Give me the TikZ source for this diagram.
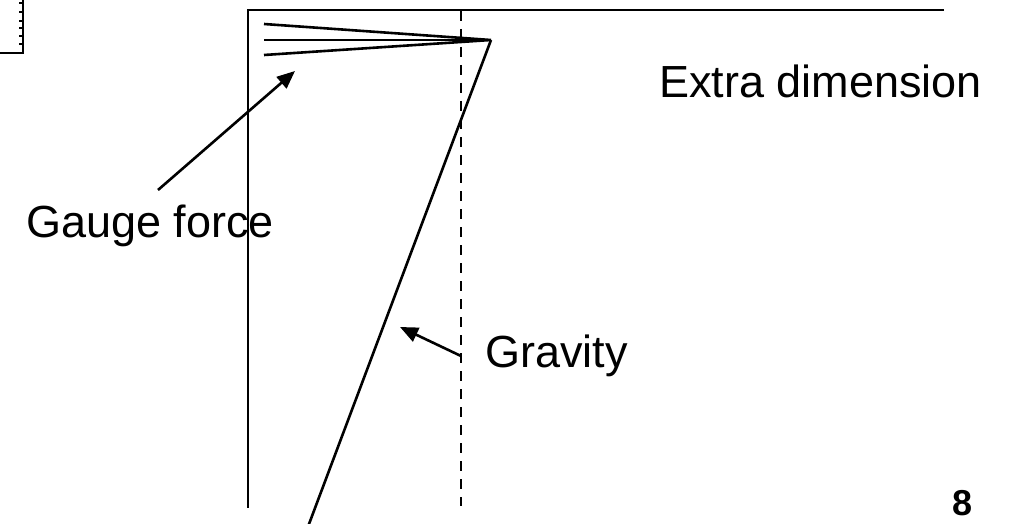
\documentclass[tikz,border=0pt]{standalone}
\usepackage{fontspec}
\setmainfont{Liberation Sans}
\usetikzlibrary{arrows.meta}
\begin{document}
\begin{tikzpicture}[x=1pt,y=-1pt,line width=2.6pt,
  lbl/.style={font=\fontsize{45}{50}\selectfont,inner sep=0pt,anchor=base west},
  arr/.style={-{Triangle[length=18pt,width=15pt]},line width=2.6pt},
  dashline/.style={dash pattern=on 10pt off 8pt}]
\clip (0,0) rectangle (1019,524);
% top-left fragment
\coordinate (fa) at (23,0);
\coordinate (fb) at (23,53);
\coordinate (fc) at (0,53);
\draw[line width=1.8pt] (fa) -- (fb) -- (fc);
\foreach \ty in {3,12,21,28,36,44}{\draw[line width=1.6pt] (19,\ty) -- (23,\ty);}
% axes
\coordinate (tr) at (944,10);
\coordinate (corner) at (248,10);
\coordinate (bl) at (248,508);
\draw (tr) -- (corner) -- (bl);
% dashed brane
\coordinate (dtop) at (461,11);
\coordinate (dbot) at (461,506);
\draw[dashline] (dtop) -- (dbot);
% gauge lines
\coordinate (conv) at (491,40);
\coordinate (g1) at (264,24);
\coordinate (g2) at (264,40);
\coordinate (g3) at (264,55);
\draw (g1) -- (conv) -- (g3);
\draw (g2) -- (conv);
% gravity line
\coordinate (gb) at (306,532);
\draw (conv) -- (gb);
% labels
\node[lbl] (extra) at (658,98) {Extra dimension};
\node[lbl] (gravity) at (484,367) {Gravity};
\node[lbl,anchor=base east] (gauge) at (275,237) {Gauge force};
\node[font=\bfseries\fontsize{36}{36}\selectfont,inner sep=0pt,anchor=base east] (eight) at (974,515) {8};
% arrows
\coordinate (gat) at (158,190);
\coordinate (gah) at (295,71);
\draw[arr] (gat) -- (gah);
\coordinate (grt) at (461,356);
\coordinate (grh) at (400,327);
\draw[arr] (grt) -- (grh);
\end{tikzpicture}
\end{document}
